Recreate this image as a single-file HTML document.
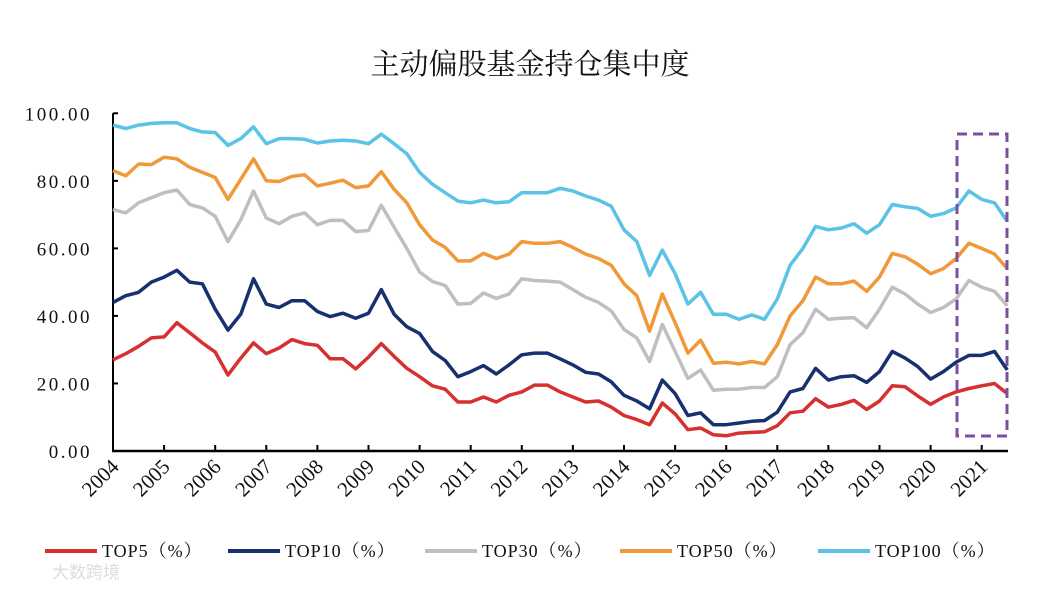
<!DOCTYPE html>
<html><head><meta charset="utf-8"><style>
body{margin:0;background:#fff;}
svg text{font-family:"Liberation Serif","Noto Serif CJK SC",serif;}
</style></head><body>
<svg id="c" width="1040" height="589" viewBox="0 0 1040 589" xmlns="http://www.w3.org/2000/svg">
<text x="530" y="74" text-anchor="middle" font-size="29" fill="#111" style="font-family:'Noto Serif CJK SC',serif">主动偏股基金持仓集中度</text>
<g id="axes"></g><g id="series"></g>
<rect x="957" y="134" width="50" height="302" fill="none" stroke="#7a4f9e" stroke-width="3" stroke-dasharray="10,6"/>
<g id="legend"></g>
<text x="52" y="578" font-size="17" fill="#ddd" style="font-family:'Noto Sans CJK SC',sans-serif">大数跨境</text>
</svg>
<script>
const years=["2004","2005","2006","2007","2008","2009","2010","2011","2012","2013","2014","2015","2016","2017","2018","2019","2020","2021"];
const yTicks=[0,20,40,60,80,100];
const seriesNames=["TOP5（%）","TOP10（%）","TOP30（%）","TOP50（%）","TOP100（%）"];
const top5=[27,28.8,31,33.5, 33.8,38,35,32, 29.3,22.5,27.5,32, 28.8,30.5,33,31.8, 31.3,27.3,27.3,24.3, 27.8,31.8,28,24.5, 22,19.3,18.3,14.5, 14.5,16,14.5,16.5, 17.5,19.5,19.5,17.5, 16,14.5,14.8,13, 10.5,9.3,7.8,14.2, 11,6.3,6.8,4.8, 4.5,5.3,5.5,5.7, 7.5,11.3,11.8,15.5, 13,13.8,15,12.3, 14.8,19.3,19,16.3, 13.8,16,17.5,18.5, 19.3,20,17];
const top10=[44,46,47,50, 51.5,53.5,50,49.5, 42,35.8,40.5,51, 43.5,42.5,44.5,44.5, 41.3,39.8,40.8,39.3, 40.8,47.8,40.5,36.8, 34.8,29.5,26.8,22, 23.5,25.3,22.8,25.5, 28.5,29,29,27.3, 25.5,23.3,22.8,20.5, 16.5,14.8,12.5,21, 17,10.5,11.3,7.8, 7.8,8.3,8.8,9, 11.5,17.5,18.5,24.5, 21,22,22.3,20.3, 23.5,29.5,27.5,25, 21.3,23.5,26.3,28.3, 28.3,29.5,24];
const top30=[71.5,70.5,73.5,75, 76.5,77.3,73,72, 69.5,62,68.5,77, 69,67.3,69.5,70.5, 67,68.3,68.3,65, 65.3,72.8,66.3,60, 53,50.2,49,43.5, 43.7,46.8,45.2,46.5, 51,50.5,50.3,50, 47.8,45.5,44,41.5, 36,33.5,26.5,37.5, 29.5,21.5,24,18, 18.3,18.3,18.8,18.8, 22,31.5,35,42, 39,39.3,39.5,36.5, 42,48.5,46.5,43.5, 41,42.5,45,50.5, 48.5,47.3,43];
const top50=[83,81.5,85,84.8, 87,86.5,84,82.5, 81,74.5,80.5,86.5, 80,79.8,81.3,81.8, 78.5,79.3,80.2,78, 78.5,82.7,77.5,73.5, 67,62.5,60.3,56.3, 56.3,58.5,57,58.3, 62,61.5,61.5,62, 60.3,58.3,57,55, 49.5,46,35.5,46.5, 38,29,32.8,26, 26.3,25.8,26.5,25.8, 31.5,40,44.5,51.5, 49.5,49.5,50.3,47.3, 51.5,58.5,57.5,55.3, 52.5,54,57,61.5, 60,58.3,54];
const top100=[96.5,95.5,96.5,97, 97.2,97.2,95.5,94.5, 94.3,90.5,92.5,96, 91,92.5,92.5,92.3, 91.2,91.8,92,91.8, 91,93.8,91,88, 82.5,79,76.5,74, 73.5,74.3,73.5,73.8, 76.5,76.5,76.5,77.8, 77,75.5,74.3,72.5, 65.5,62,52,59.5, 52.5,43.5,47,40.5, 40.5,39,40.3,39, 45,55,60,66.5, 65.5,66,67.3,64.5, 67,73,72.3,71.8, 69.5,70.3,72,77, 74.5,73.5,68];
const colors=["#d6302f","#17306f","#bfbfbf","#f0993a","#5bc3e6"];
const NS="http://www.w3.org/2000/svg";
const X0=113,YR=51.1,Y0=451,PX=3.377;
function xq(i){return X0+i*YR/4;}
function xy(yr){return X0+yr*YR;}
function yv(v){return Y0-v*PX;}
function mk(t,a,p){const e=document.createElementNS(NS,t);for(const k in a)e.setAttribute(k,a[k]);p.appendChild(e);return e;}
const axes=document.getElementById('axes');
const ya=mk('line',{x1:X0,y1:yv(100),x2:X0,y2:Y0,stroke:'#000','stroke-width':2},axes);


const xa=mk('line',{x1:X0-1,y1:Y0,x2:1008,y2:Y0,stroke:'#000','stroke-width':2.5},axes);


yTicks.forEach(v=>{
  mk('line',{x1:X0,y1:yv(v),x2:X0+5,y2:yv(v),stroke:'#000','stroke-width':2},axes);
  const t=mk('text',{x:92,y:yv(v)+7,'text-anchor':'end','font-size':19,'letter-spacing':'2.5',fill:'#111'},axes);
  t.textContent=v.toFixed(2);
  
  
});
years.forEach((y,i)=>{
  const x=xy(i);
  mk('line',{x1:x,y1:Y0,x2:x,y2:Y0-6,stroke:'#000','stroke-width':2},axes);
  const t=mk('text',{x:x+7,y:Y0+17,'text-anchor':'end','font-size':21,fill:'#111',transform:`rotate(-45 ${x+7} ${Y0+17})`},axes);
  t.textContent=y;
  
  
});
const sg=document.getElementById('series');
const all=[top5,top10,top30,top50,top100];
[4,3,2,1,0].forEach(s=>{
  const d=all[s].map((v,i)=>(i?'L':'M')+xq(i).toFixed(1)+','+yv(v).toFixed(1)).join('');
  const p=mk('path',{d:d,fill:'none',stroke:colors[s],'stroke-width':3.5,'stroke-linejoin':'round'},sg);
  
  
});
const lg=document.getElementById('legend');
const lx=[45,228,425,620,818];
seriesNames.forEach((n,i)=>{
  const g=mk('g',{},lg);
  
  
  mk('line',{x1:lx[i],y1:551,x2:lx[i]+52,y2:551,stroke:colors[i],'stroke-width':4},g);
  const t=mk('text',{x:lx[i]+57,y:557,'font-size':18,'letter-spacing':'1',fill:'#111'},g);
  t.textContent=n;
});
</script>
</body></html>
